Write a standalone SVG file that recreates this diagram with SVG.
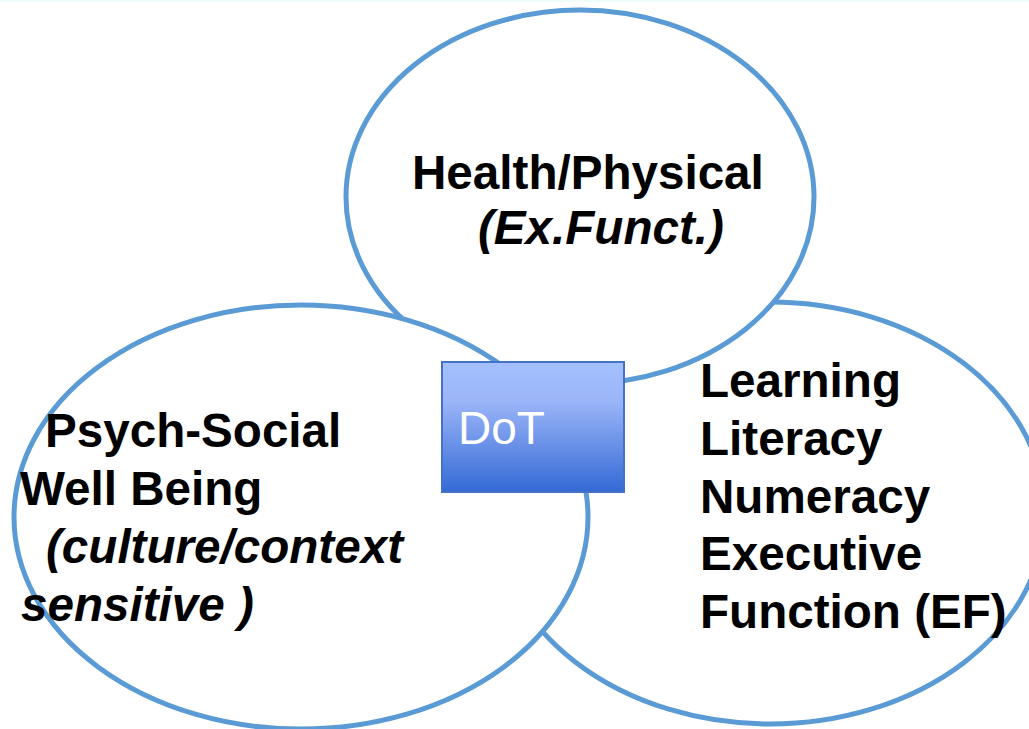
<svg xmlns="http://www.w3.org/2000/svg" width="1029" height="729" viewBox="0 0 1029 729">
  <defs>
    <linearGradient id="boxGrad" x1="0" y1="0" x2="0" y2="1">
      <stop offset="0" stop-color="#a4c0fe"/>
      <stop offset="0.3" stop-color="#9bb5f8"/>
      <stop offset="1" stop-color="#346ad6"/>
    </linearGradient>
  </defs>
  <style>
    .circle { fill: #ffffff; stroke: #5b9bd5; stroke-width: 5; }
    .lbl { font-family: "Liberation Sans", Arial, sans-serif; font-size: 47.6px; font-weight: bold; fill: #000000; }
    .it { font-style: italic; }
    .box { fill: url(#boxGrad); stroke: #4472c4; stroke-width: 2; }
    .boxlbl { font-family: "Liberation Sans", Arial, sans-serif; font-size: 46px; fill: #ffffff; }
  </style>
  <rect x="0" y="0" width="1029" height="729" fill="#ffffff"/>
  <rect x="0" y="0" width="1029" height="2" fill="#eefcfc"/>
  <g id="connectors"></g>
  <g id="learning">
    <ellipse class="circle" cx="770" cy="513" rx="275" ry="211"/>
    <text class="lbl" x="700" y="397">Learning</text>
    <text class="lbl" x="700" y="455">Literacy</text>
    <text class="lbl" x="700" y="513">Numeracy</text>
    <text class="lbl" x="700" y="570">Executive</text>
    <text class="lbl" x="700" y="628">Function (EF)</text>
  </g>
  <g id="health">
    <ellipse class="circle" cx="580" cy="197" rx="234" ry="187"/>
    <text class="lbl" x="412" y="189">Health/Physical</text>
    <text class="lbl it" x="478" y="244">(Ex.Funct.)</text>
  </g>
  <g id="psychsocial">
    <ellipse class="circle" cx="301" cy="517" rx="287" ry="212"/>
    <text class="lbl" x="45" y="447">Psych-Social</text>
    <text class="lbl" x="20" y="505">Well Being</text>
    <text class="lbl it" x="46" y="563">(culture/context</text>
    <text class="lbl it" x="21" y="621">sensitive )</text>
  </g>
  <g id="dot">
    <rect class="box" x="442" y="362" width="182" height="130"/>
    <text class="boxlbl" x="458" y="444">DoT</text>
  </g>
</svg>
